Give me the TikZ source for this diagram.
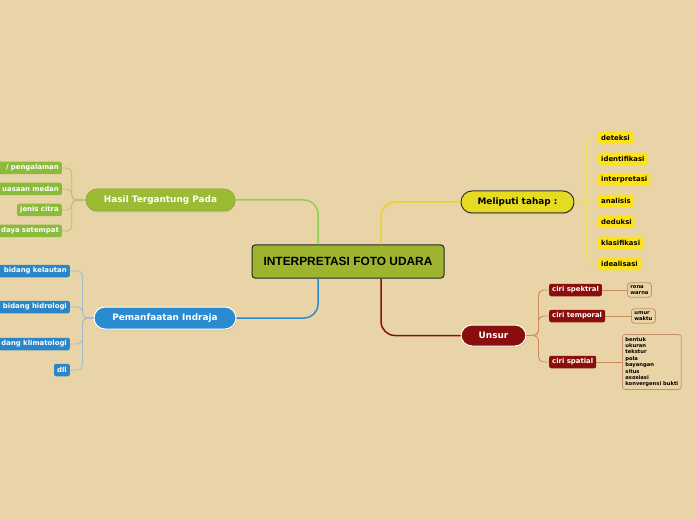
\documentclass[tikz,border=0pt]{standalone}
\usepackage{fontspec}
\setmainfont{DejaVu Sans}
\newfontfamily\arialfont{Liberation Sans}
\usepackage{tikz}
\usetikzlibrary{positioning,calc,shadows}

\definecolor{bgbeige}{HTML}{E9D4A7}
\definecolor{centergreen}{HTML}{9DB52E}
\definecolor{hasilgreen}{HTML}{9BBB34}
\definecolor{leafgreen}{HTML}{8CBB3C}
\definecolor{lgreen}{HTML}{AFC46A}
\definecolor{pemblue}{HTML}{2A8BD0}
\definecolor{leafblue}{HTML}{2A86C8}
\definecolor{lblue}{HTML}{A3BCCB}
\definecolor{metyellow}{HTML}{E5DC22}
\definecolor{leafyellow}{HTML}{FFE31A}
\definecolor{lyellow}{HTML}{F2DF5A}
\definecolor{unsurred}{HTML}{8A0F0C}
\definecolor{lred}{HTML}{C98A5E}
\definecolor{boxbrown}{HTML}{C99068}

\tikzset{
    mainbox/.style={rounded corners=11bp, minimum height=22bp, inner sep=0pt,
        font=\bfseries\fontsize{8.9bp}{10bp}\selectfont,
        drop shadow={shadow xshift=0.6bp, shadow yshift=-1.4bp, opacity=0.25}},
    leaf/.style={rounded corners=2bp, minimum height=12.5bp, inner xsep=3bp, inner ysep=0pt,
        font=\bfseries\fontsize{6.9bp}{7.5bp}\selectfont},
    cutleaf/.style={leaf, text width=74bp, align=right, anchor=east},
    notebox/.style={draw=boxbrown, line width=0.8bp, fill=bgbeige, rounded corners=3bp,
        align=left, inner xsep=3bp, inner ysep=2.5bp,
        font=\bfseries\fontsize{5.2bp}{6.4bp}\selectfont},
    bus/.style={line width=0.8bp, rounded corners=5bp},
}

\begin{document}
\begin{tikzpicture}[x=1bp,y=-1bp]
    \fill[bgbeige] (0,0) rectangle (696,520);
    \useasboundingbox (0,0) rectangle (696,520);
    \clip (0,0) rectangle (696,520);

    \node[draw=black!85, line width=1bp, fill=centergreen, rounded corners=3bp,
        minimum width=192bp, minimum height=33bp,
        font=\arialfont\bfseries\fontsize{11.9bp}{13bp}\selectfont] (udara) at (348,261.5) {INTERPRETASI FOTO UDARA};

    \node[mainbox, fill=hasilgreen, draw=hasilgreen!85!black, line width=0.5bp, text=white,
        minimum width=149bp] (hasil) at (160.5,200) {Hasil Tergantung Pada};
    \node[mainbox, fill=pemblue, draw=white, line width=1bp, text=white,
        minimum width=142bp] (indraja) at (165,318) {Pemanfaatan Indraja};
    \node[mainbox, fill=metyellow, draw=black!80, line width=1bp, text=black,
        minimum width=113bp] (tahap) at (517.5,202) {Meliputi tahap :};
    \node[mainbox, fill=unsurred, draw=white, line width=1bp, text=white,
        minimum width=65bp, minimum height=21bp] (unsur) at (493.5,335.5) {Unsur};

    \draw[lgreen!80!green, line width=1.5bp, rounded corners=14bp] ([xshift=-30bp]udara.north) |- (hasil.east);
    \draw[pemblue, line width=1.5bp, rounded corners=14bp] ([xshift=-30bp]udara.south) |- (indraja.east);
    \draw[metyellow!90!orange, line width=1.5bp, rounded corners=14bp] ([xshift=33bp]udara.north) |- (tahap.west);
    \draw[unsurred, line width=1.5bp, rounded corners=14bp] ([xshift=33bp]udara.south) |- (unsur.west);

    \node[cutleaf, fill=leafgreen, text=white] (pengalaman) at (62,168) {/ pengalaman};
    \node[cutleaf, fill=leafgreen, text=white] (medan) at (62,189) {uasaan medan};
    \node[leaf, fill=leafgreen, text=white, anchor=east] (citra) at (62,210) {jenis citra};
    \node[cutleaf, fill=leafgreen, text=white] (setempat) at (62,231) {daya setempat};
    \foreach \n in {pengalaman,medan,citra,setempat}
        \draw[bus, lgreen] (hasil.west) -- ++(-14,0) |- (\n.east);

    \node[cutleaf, fill=leafblue, text=white] (kelautan) at (70,271) {bidang kelautan};
    \node[cutleaf, fill=leafblue, text=white] (hidrologi) at (70,307) {bidang hidrologi};
    \node[cutleaf, fill=leafblue, text=white] (klimatologi) at (70,344) {dang klimatologi};
    \node[leaf, fill=leafblue, text=white, anchor=east] (dll) at (70,370) {dll};
    \foreach \n in {kelautan,hidrologi,klimatologi,dll}
        \draw[bus, lblue] (indraja.west) -- ++(-11,0) |- (\n.east);

    \node[leaf, fill=leafyellow, anchor=west] (deteksi) at (598,138) {deteksi};
    \node[leaf, fill=leafyellow, anchor=west] (identifikasi) at (598,159) {identifikasi};
    \node[leaf, fill=leafyellow, anchor=west] (interpretasi) at (598,180) {interpretasi};
    \node[leaf, fill=leafyellow, anchor=west] (analisis) at (598,201) {analisis};
    \node[leaf, fill=leafyellow, anchor=west] (deduksi) at (598,222) {deduksi};
    \node[leaf, fill=leafyellow, anchor=west] (klasifikasi) at (598,243) {klasifikasi};
    \node[leaf, fill=leafyellow, anchor=west] (idealisasi) at (598,264) {idealisasi};
    \foreach \n in {deteksi,identifikasi,interpretasi,analisis,deduksi,klasifikasi,idealisasi}
        \draw[bus, lyellow] (tahap.east) -- ++(12,0) |- (\n.west);

    \node[leaf, fill=unsurred, text=white, anchor=west] (spektral) at (549,290) {ciri spektral};
    \node[leaf, fill=unsurred, text=white, anchor=west] (temporal) at (549,316) {ciri temporal};
    \node[leaf, fill=unsurred, text=white, anchor=west] (spatial) at (549,362) {ciri spatial};
    \foreach \n in {spektral,temporal,spatial}
        \draw[bus, lred] (unsur.east) -- ++(12,0) |- (\n.west);

    \node[notebox, anchor=west] (rona) at (627,290) {rona\\warna};
    \node[notebox, anchor=west] (umur) at (631,316) {umur\\waktu};
    \node[notebox, anchor=west] (bentuk) at (622,362) {bentuk\\ukuran\\tekstur\\pola\\bayangan\\situs\\asosiasi\\konvergensi bukti};
    \draw[bus, lred] (spektral.east) -- (rona.west);
    \draw[bus, lred] (temporal.east) -- (umur.west);
    \draw[bus, lred] (spatial.east) -- (bentuk.west);
\end{tikzpicture}
\end{document}
